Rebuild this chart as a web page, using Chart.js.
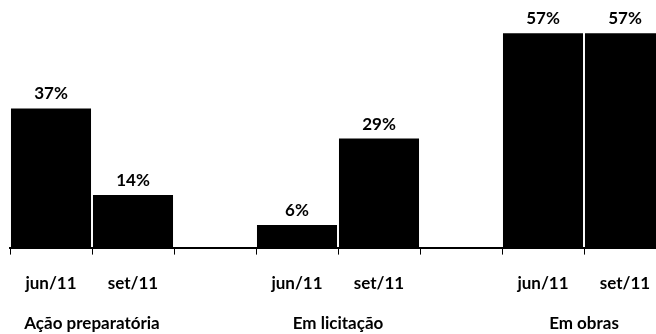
<!DOCTYPE html>
<html><head><meta charset="utf-8">
<script src="https://cdn.jsdelivr.net/npm/chart.js@4/dist/chart.umd.min.js"></script>
<style>
html,body{margin:0;padding:0;background:#fff;overflow:hidden;}
#wrap{position:relative;width:676px;height:334px;}
</style></head><body>
<div id="wrap"><canvas id="c" width="676" height="334"></canvas></div>
<script>
// Project status, share per group at two reporting dates
const groups = ['Ação preparatória', 'Em licitação', 'Em obras'];
const periods = ['jun/11', 'set/11'];
const junValues = [37, 6, 57];
const setValues = [14, 29, 57];

// Flatten into slots: two bars per group, an empty slot between groups
const slotLabels = [];
const slotValues = [];
const groupSlots = [];
groups.forEach((g, i) => {
  if (i > 0) { slotLabels.push(''); slotValues.push(null); }
  const start = slotLabels.length;
  slotLabels.push(periods[0]); slotValues.push(junValues[i]);
  slotLabels.push(periods[1]); slotValues.push(setValues[i]);
  groupSlots.push([start, start + 1]);
});

const FONT = 'Lato, "Open Sans", sans-serif';
const SIZE = 17;

const valueLabels = {
  id: 'valueLabels',
  afterDatasetsDraw(chart) {
    const ctx = chart.ctx;
    const meta = chart.getDatasetMeta(0);
    ctx.save();
    ctx.fillStyle = '#000';
    ctx.font = 'bold ' + SIZE + 'px ' + FONT;
    ctx.textAlign = 'center';
    ctx.textBaseline = 'bottom';
    meta.data.forEach((el, i) => {
      const v = slotValues[i];
      if (v == null) return;
      ctx.fillText(v + '%', el.x, el.y - 6);
    });
    ctx.restore();
  }
};

const groupLabels = {
  id: 'groupLabels',
  afterDraw(chart) {
    const ctx = chart.ctx;
    const x = chart.scales.x;
    ctx.save();
    ctx.fillStyle = '#000';
    ctx.font = 'bold ' + SIZE + 'px ' + FONT;
    ctx.textAlign = 'center';
    ctx.textBaseline = 'middle';
    groupSlots.forEach((s, i) => {
      const cx = (x.getPixelForValue(s[0]) + x.getPixelForValue(s[1])) / 2;
      ctx.fillText(groups[i], cx, x.bottom + 11);
    });
    ctx.restore();
  }
};

new Chart(document.getElementById('c'), {
  type: 'bar',
  data: {
    labels: slotLabels,
    datasets: [{
      data: slotValues,
      backgroundColor: '#000',
      borderWidth: 0,
      barPercentage: 1,
      categoryPercentage: 0.976
    }]
  },
  options: {
    responsive: false,
    devicePixelRatio: 1,
    animation: false,
    layout: { padding: { left: 10, right: 10, top: 22, bottom: 21 } },
    plugins: { legend: { display: false }, tooltip: { enabled: false } },
    scales: {
      x: {
        offset: true,
        grid: { offset: true, drawOnChartArea: false, drawTicks: true, tickLength: 7, color: '#000', lineWidth: 1 },
        border: { display: true, color: '#000', width: 2 },
        ticks: { color: '#000', font: { family: FONT, weight: 'bold', size: SIZE }, padding: 19, maxRotation: 0, autoSkip: false }
      },
      y: { display: false, min: 0, max: 60 }
    }
  },
  plugins: [valueLabels, groupLabels]
});
</script>
</body></html>
